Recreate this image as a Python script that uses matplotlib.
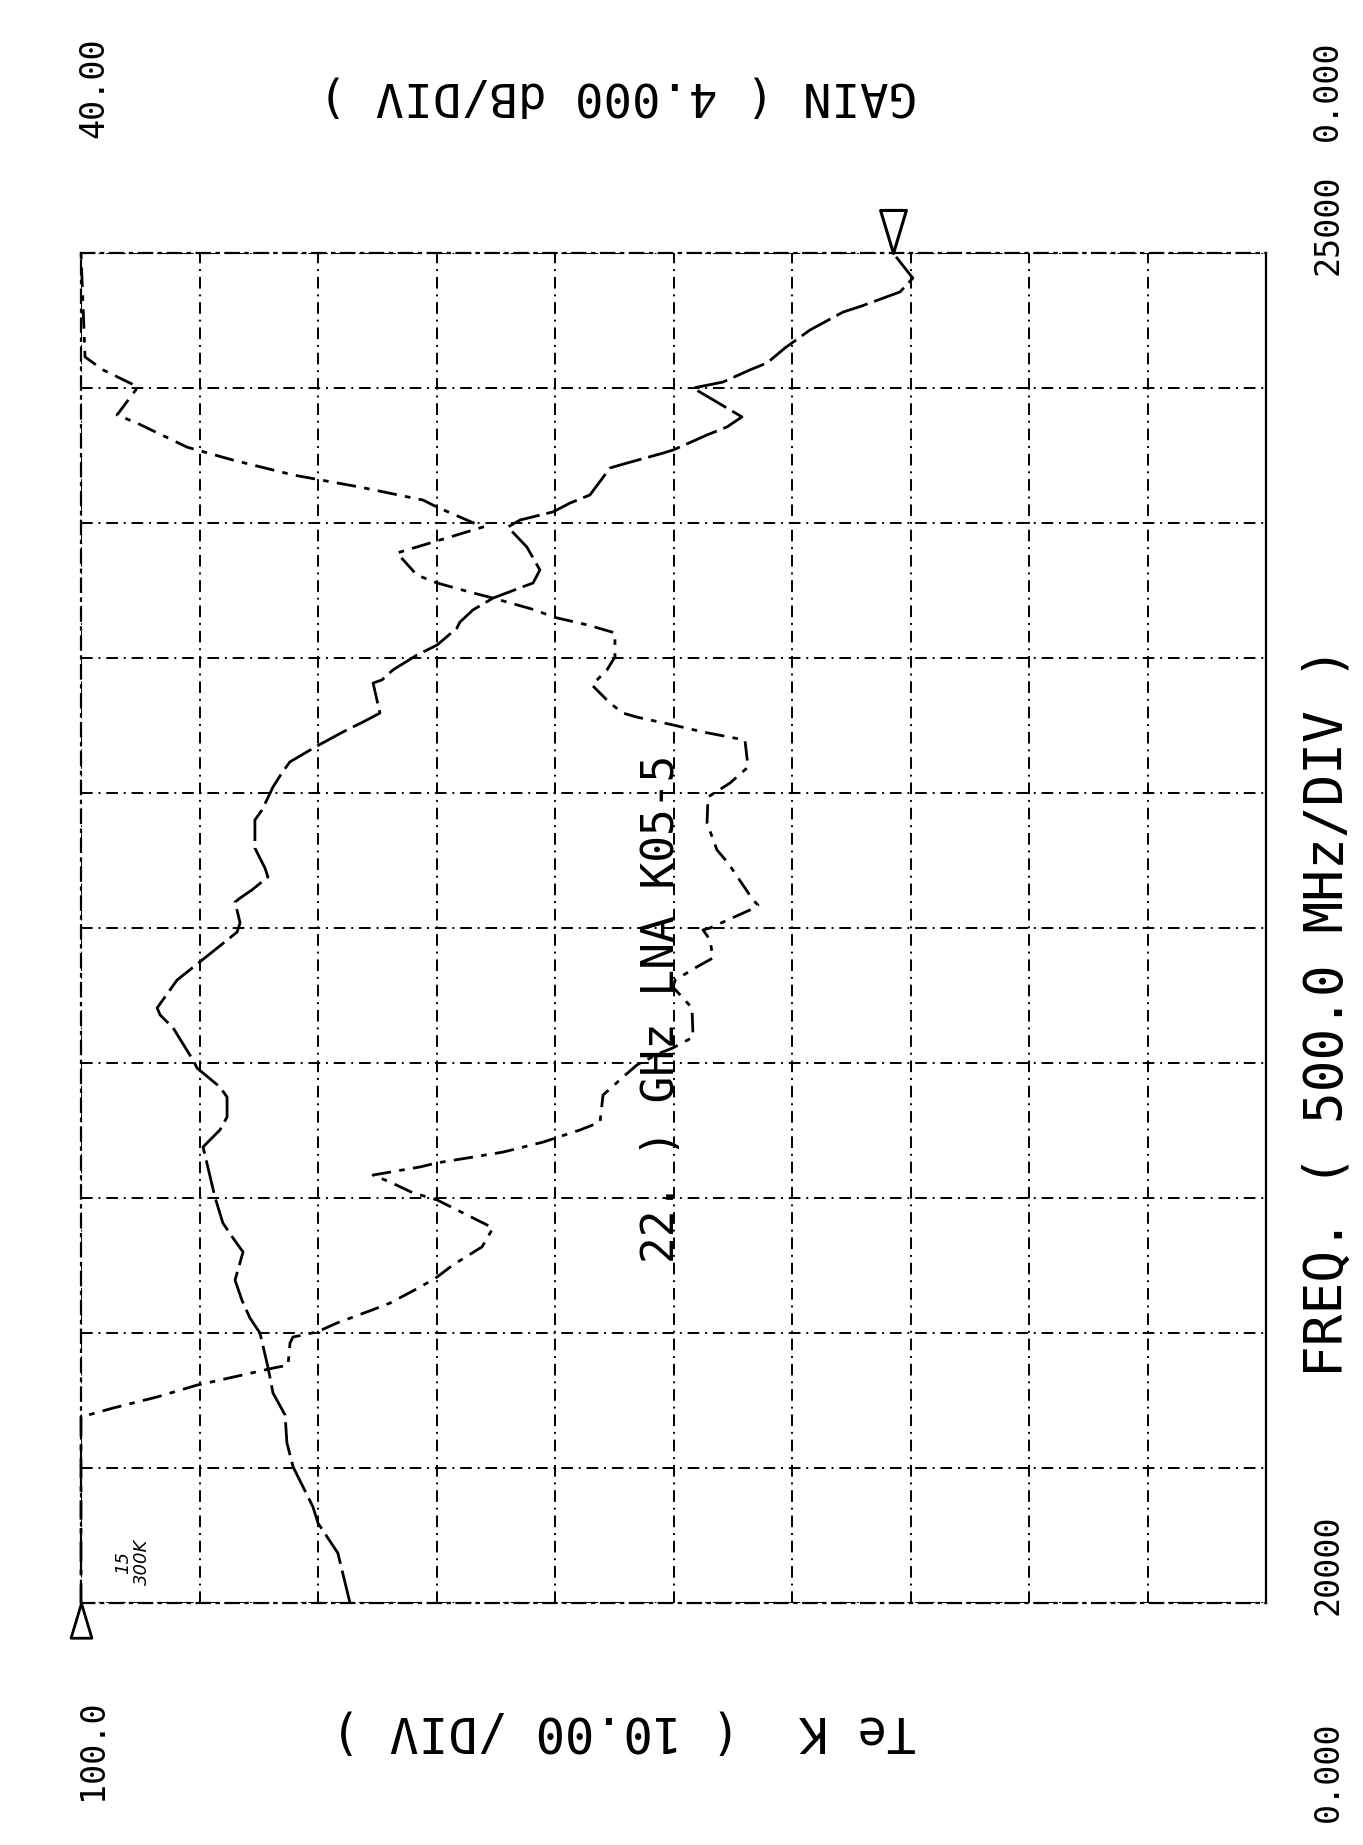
import numpy as np
import matplotlib.pyplot as plt
from matplotlib.path import Path

# --- DATA ---
# gain curve, dB (right-hand scale 0..40, 4 dB/div)
GAIN_FREQ = [20000, 20185, 20296, 20356, 20504, 20593, 20696, 20778, 20874, 21000,
             21056, 21122, 21196, 21300, 21352, 21407, 21504, 21689, 21752, 21800,
             21874, 21911, 21981, 22011, 22130, 22178, 22204, 22307, 22419, 22485,
             22519, 22596, 22611, 22641, 22689, 22722, 22796, 22900, 22937, 23022,
             23074, 23115, 23170, 23226, 23263, 23296, 23407, 23419, 23456, 23511,
             23548, 23611, 23633, 23678, 23722, 23778, 23826, 23911, 23985, 24011,
             24041, 24074, 24104, 24204, 24222, 24259, 24270, 24326, 24356, 24393,
             24500, 24522, 24567, 24593, 24648, 24715, 24781, 24804, 24856, 24907,
             25000]
GAIN_DB = [30.92, 31.33, 32.00, 32.17, 32.84, 33.05, 33.11, 33.52, 33.69, 33.96,
           34.30, 34.57, 34.80, 34.53, 34.87, 35.21, 35.48, 35.88, 35.31, 35.07,
           35.07, 35.31, 36.08, 36.22, 36.89, 37.33, 37.43, 36.76, 35.48, 34.73,
           34.63, 34.80, 34.63, 34.23, 33.69, 33.79, 34.13, 34.13, 33.89, 33.52,
           33.22, 32.95, 32.10, 31.16, 30.48, 29.91, 30.14, 29.84, 29.47, 28.66,
           27.98, 27.31, 27.21, 26.77, 26.09, 24.74, 24.51, 24.95, 25.59, 25.18,
           24.07, 23.49, 22.82, 22.14, 21.57, 20.35, 20.02, 18.87, 18.19, 17.69,
           19.34, 18.33, 17.42, 16.84, 16.24, 15.39, 14.28, 13.64, 12.35, 11.92,
           12.59]

# noise temperature curve, K (left-hand scale 0..100, 10 K/div, pinned at 100 off scale)
TE_FREQ = [20000, 20689, 20722, 20763, 20807, 20815, 20859, 20870, 20881, 20963,
           20985, 21004, 21037, 21085, 21111, 21170, 21207, 21252, 21319, 21389,
           21493, 21519, 21559, 21585, 21615, 21630, 21648, 21670, 21707, 21752,
           21781, 21881, 21948, 21993, 22037, 22056, 22096, 22204, 22281, 22307,
           22356, 22389, 22456, 22493, 22500, 22567, 22585, 22604, 22741, 22789,
           22889, 22985, 23037, 23096, 23196, 23226, 23252, 23281, 23296, 23333,
           23370, 23400, 23456, 23504, 23593, 23622, 23652, 23678, 23722, 23741,
           23778, 23807, 23889, 23937, 23985, 24059, 24085, 24133, 24178, 24233,
           24281, 24370, 24400, 24504, 24567, 24615, 25000]
TE_K = [100.0, 100.0, 97.30, 93.59, 90.21, 89.37, 84.89, 83.80, 82.53, 82.36,
        82.11, 80.08, 78.40, 75.44, 73.92, 71.39, 69.96, 68.61, 66.16, 65.23,
        69.96, 71.98, 73.92, 75.36, 71.39, 69.96, 67.43, 64.39, 61.01, 57.89,
        56.20, 55.95, 54.26, 53.08, 51.14, 50.04, 48.35, 48.44, 50.04, 49.87,
        48.02, 46.67, 46.92, 47.51, 46.92, 43.54, 42.87, 43.29, 45.40, 46.33,
        47.17, 47.09, 45.23, 43.71, 43.97, 47.51, 50.04, 53.08, 54.26, 55.36,
        56.20, 56.88, 55.61, 54.94, 54.94, 57.22, 60.17, 61.69, 65.23, 66.92,
        69.96, 71.65, 73.33, 69.70, 66.08, 69.96, 71.14, 76.46, 82.11, 87.17,
        91.05, 95.27, 96.96, 95.19, 98.14, 99.66, 100.0]

FREQ_RANGE = (20000, 25000)
TE_RANGE = (0, 100)
GAIN_RANGE = (0, 40)

W, H = 1363, 1845
FONT = 'DejaVu Sans Mono'
GRID_DASH = (0, (6, 3, 1, 3))


def px(x, y):
    """pixel position on the sheet -> figure fraction"""
    return x / W, 1 - y / H


fig = plt.figure(figsize=(W / 100, H / 100), dpi=100)
fig.patch.set_facecolor('white')

# plot box: 81..1266 px wide, 253..1603 px tall
ax = fig.add_axes([81 / W, 1 - 1603 / H, 1185 / W, 1350 / H])
ax.set_xlim(TE_RANGE[1], TE_RANGE[0])
ax.set_ylim(*FREQ_RANGE)
ax.set_xticks(np.linspace(0, 100, 11))
ax.set_yticks(np.linspace(20000, 25000, 11))
ax.tick_params(length=0, labelbottom=False, labelleft=False)
ax.grid(True, color='black', lw=1.4, linestyle=GRID_DASH)
for side, sp in ax.spines.items():
    sp.set_linewidth(1.6)
    if side != 'right':
        sp.set_linestyle(GRID_DASH)

ax2 = ax.twiny()
ax2.set_xlim(GAIN_RANGE[1], GAIN_RANGE[0])
ax2.set_xticks([])
ax2.tick_params(length=0, labeltop=False)
for sp in ax2.spines.values():
    sp.set_visible(False)

# curves
ax.plot(TE_K, TE_FREQ, color='black', lw=2.0,
        linestyle=(0, (7, 3, 2, 3)), clip_on=False)
ax2.plot(GAIN_DB, GAIN_FREQ, color='black', lw=2.0,
         linestyle=(0, (12, 2.5)), clip_on=False)

# reference markers: triangles with the tip on the curve end
down_tri = Path([(-0.3, 1.0), (0.3, 1.0), (0.0, 0.0), (-0.3, 1.0)],
                [Path.MOVETO, Path.LINETO, Path.LINETO, Path.CLOSEPOLY])
up_tri = Path([(-0.3, -1.0), (0.3, -1.0), (0.0, 0.0), (-0.3, -1.0)],
              [Path.MOVETO, Path.LINETO, Path.LINETO, Path.CLOSEPOLY])
ax2.plot([GAIN_DB[-1]], [GAIN_FREQ[-1]], marker=down_tri, ms=62,
         mfc='none', mec='black', mew=2.2, clip_on=False)
ax.plot([TE_K[0]], [TE_FREQ[0]], marker=up_tri, ms=50,
        mfc='none', mec='black', mew=2.0, clip_on=False)

# scale labels (sheet is plotted sideways)
tick_kw = dict(family=FONT, fontsize=24, color='black', rotation=90,
               ha='center', va='center')
fig.text(*px(94, 88), '40.00', **tick_kw)
fig.text(*px(1327, 91), '0.000', **tick_kw)
fig.text(*px(1328, 225), '25000', **tick_kw)
fig.text(*px(1328, 1565), '20000', **tick_kw)
fig.text(*px(1328, 1772), '0.000', **tick_kw)
fig.text(*px(93, 1750), '100.0', **tick_kw)

fig.text(*px(618, 95), 'GAIN ( 4.000 dB/DIV )', family=FONT, fontsize=34,
         rotation=180, ha='center', va='center')
fig.text(*px(624, 1730), 'Te K  ( 10.00 /DIV )', family=FONT, fontsize=35,
         rotation=180, ha='center', va='center')
fig.text(*px(1328, 1012), 'FREQ. ( 500.0 MHz/DIV )', family=FONT, fontsize=38,
         rotation=90, ha='center', va='center')
fig.text(*px(662, 1009), '22. ) GHz LNA K05-5', family=FONT, fontsize=32,
         rotation=90, ha='center', va='center')

# pencil note
fig.text(*px(123, 1562), '15', family='DejaVu Sans', fontsize=13,
         style='italic', rotation=90, ha='center', va='center')
fig.text(*px(142, 1562), '300K', family='DejaVu Sans', fontsize=13,
         style='italic', rotation=90, ha='center', va='center')

fig.savefig('out.png', dpi=100, facecolor='white')
